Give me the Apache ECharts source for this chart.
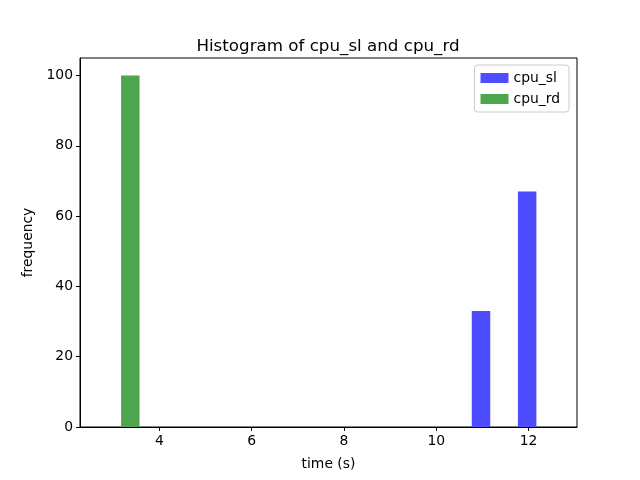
<!DOCTYPE html>
<html>
<head>
<meta charset="utf-8">
<script src="https://cdn.jsdelivr.net/npm/echarts@6/dist/echarts.min.js"></script>
<style>
  html, body { margin: 0; padding: 0; background: #fff; }
  #chart { width: 640px; height: 480px; }
</style>
</head>
<body>
<div id="chart"></div>
<script>
// histogram bins (shared edges) and counts per series
const binEdges = [2.67, 3.67, 4.67, 5.67, 6.67, 7.67, 8.67, 9.67, 10.67, 11.67, 12.67]
const cpuSl = [0, 0, 0, 0, 0, 0, 0, 0, 33, 67]
const cpuRd = [100, 0, 0, 0, 0, 0, 0, 0, 0, 0]
const xTicks = [4, 6, 8, 10, 12]
const yTicks = [0, 20, 40, 60, 80, 100]

const font = 'DejaVu Sans'

// side by side bars inside each bin, like matplotlib hist with two datasets
const barsFor = (counts, slot) => {
  return counts.map((c, i) => {
    const w = binEdges[i + 1] - binEdges[i]
    const x0 = binEdges[i] + 0.1 * w + slot * 0.4 * w
    return [x0, x0 + 0.4 * w, c]
  })
}

const renderBar = (params, api) => {
  const s = api.coord([api.value(0), api.value(2)])
  const e = api.coord([api.value(1), 0])
  return {
    type: 'rect',
    shape: { x: s[0], y: s[1], width: e[0] - s[0], height: e[1] - s[1] },
    style: { fill: api.visual('color'), stroke: null }
  }
}

const option = {
  animation: false,
  textStyle: { fontFamily: font },
  title: {
    text: 'Histogram of cpu_sl and cpu_rd',
    left: 323,
    textAlign: 'center',
    top: 33,
    textStyle: { fontFamily: font, fontSize: 16.7, fontWeight: 'normal', color: '#000' }
  },
  legend: {
    orient: 'vertical',
    right: 71,
    top: 65,
    padding: [6, 9, 6, 6],
    itemWidth: 28,
    itemHeight: 10,
    itemGap: 7,
    borderColor: '#ccc',
    borderWidth: 1,
    borderRadius: 3,
    icon: 'rect',
    textStyle: { fontFamily: font, fontSize: 13.9, color: '#000' },
    data: ['cpu_sl', 'cpu_rd']
  },
  grid: {
    left: 80, right: 63, top: 58, bottom: 53,
    show: true, borderColor: '#000', borderWidth: 1
  },
  xAxis: {
    type: 'value',
    min: 2.28,
    max: 13.05,
    name: 'time (s)',
    nameLocation: 'middle',
    nameGap: 30,
    nameTextStyle: { fontFamily: font, fontSize: 13.9, color: '#000' },
    splitLine: { show: false },
    axisLine: { lineStyle: { color: '#000' } },
    axisTick: { show: true, length: 4, customValues: xTicks, lineStyle: { color: '#000' } },
    axisLabel: { customValues: xTicks, fontFamily: font, fontSize: 13.9, color: '#000', margin: 7 }
  },
  yAxis: {
    type: 'value',
    min: 0,
    max: 105,
    name: 'frequency',
    nameLocation: 'middle',
    nameGap: 42,
    nameTextStyle: { fontFamily: font, fontSize: 13.9, color: '#000' },
    splitLine: { show: false },
    axisLine: { show: true, lineStyle: { color: '#000' } },
    axisTick: { show: true, length: 4, customValues: yTicks, lineStyle: { color: '#000' } },
    axisLabel: { customValues: yTicks, fontFamily: font, fontSize: 13.9, color: '#000', margin: 7 }
  },
  series: [
    {
      name: 'cpu_sl',
      type: 'custom',
      renderItem: renderBar,
      itemStyle: { color: '#4d4dff' },
      encode: { x: [0, 1], y: 2 },
      data: barsFor(cpuSl, 0)
    },
    {
      name: 'cpu_rd',
      type: 'custom',
      renderItem: renderBar,
      itemStyle: { color: '#4da64d' },
      encode: { x: [0, 1], y: 2 },
      data: barsFor(cpuRd, 1)
    }
  ]
}

const myChart = echarts.init(document.getElementById('chart'))
myChart.setOption(option)
</script>
</body>
</html>
